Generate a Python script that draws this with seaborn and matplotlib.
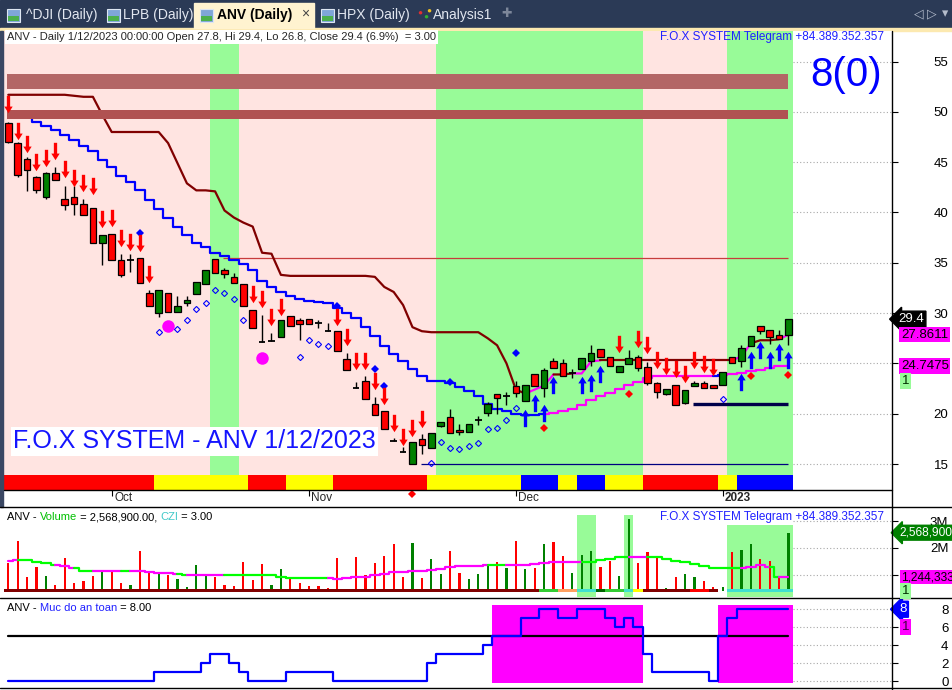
import numpy as np
import matplotlib
matplotlib.use("Agg")
import matplotlib.pyplot as plt
from matplotlib.path import Path
from matplotlib.patches import Rectangle
from matplotlib.lines import Line2D
from matplotlib.transforms import blended_transform_factory
import seaborn as sns

## daily bars of ANV, 16 Sep 2022 .. 12 Jan 2023 (84 bars)
opens = [48.9, 46.9, 45.3, 43.5, 41.5, 43.9, 41.3, 41.5, 40.8, 40.4,
         37.0, 37.9, 35.3, 35.3, 35.5, 32.0, 30.0, 32.0, 30.1, 31.0,
         31.9, 32.9, 35.4, 34.3, 33.6, 32.9, 30.3, 27.1, 27.25, 27.6,
         29.7, 29.3, 29.4, 29.0, 28.2, 28.2, 25.4, 22.6, 23.3, 21.0,
         20.3, 17.3, 16.2, 15.0, 17.5, 16.6, 18.8, 19.7, 18.4, 18.2,
         19.4, 20.1, 22.0, 21.8, 22.8, 21.3, 23.9, 22.6, 25.2, 25.0,
         24.0, 24.4, 25.2, 26.4, 25.6, 24.1, 24.9, 25.6, 24.6, 23.1,
         22.0, 22.9, 21.1, 22.8, 23.1, 22.9, 22.9, 25.6, 25.2, 26.7,
         28.7, 28.3, 27.8, 27.8]
highs = [49.0, 47.0, 45.5, 43.6, 44.0, 44.5, 42.6, 42.6, 41.3, 40.4,
         37.8, 37.9, 35.9, 35.9, 35.5, 32.3, 32.3, 32.0, 31.7, 31.7,
         33.1, 34.3, 35.4, 34.5, 34.0, 32.9, 30.3, 29.8, 28.0, 29.3,
         29.7, 29.5, 29.4, 29.3, 29.0, 28.2, 26.0, 23.2, 23.7, 21.7,
         20.3, 17.6, 16.7, 17.2, 18.0, 18.1, 19.2, 20.5, 19.0, 19.0,
         19.8, 21.2, 22.0, 22.2, 23.3, 22.9, 23.9, 24.5, 25.5, 25.4,
         24.4, 25.5, 26.8, 26.4, 25.6, 24.7, 26.3, 25.8, 25.1, 23.2,
         22.5, 22.9, 22.4, 23.3, 23.3, 22.9, 24.1, 25.6, 26.8, 27.7,
         28.7, 28.3, 28.3, 29.4]
lows = [46.9, 43.5, 42.1, 41.9, 41.3, 43.2, 40.2, 39.8, 39.8, 37.0,
        34.8, 35.3, 33.6, 34.1, 33.0, 30.7, 29.6, 30.1, 30.1, 30.7,
        31.9, 32.9, 34.0, 33.5, 33.0, 30.7, 28.5, 27.1, 27.25, 27.6,
        28.7, 27.3, 28.9, 28.5, 28.2, 26.2, 24.3, 22.6, 21.5, 19.9,
        18.5, 17.3, 16.2, 15.0, 16.0, 16.6, 18.7, 18.1, 17.9, 18.2,
        18.9, 19.8, 20.0, 20.9, 21.7, 21.3, 22.8, 21.7, 24.5, 23.7,
        23.5, 24.4, 24.7, 25.6, 24.7, 24.1, 24.9, 24.2, 22.9, 21.6,
        21.9, 20.9, 21.0, 22.8, 22.6, 22.6, 22.9, 25.0, 24.6, 26.7,
        27.9, 26.9, 27.4, 26.8]
closes = [47.0, 43.7, 44.2, 42.2, 43.9, 43.2, 40.7, 40.8, 39.8, 37.0,
          37.8, 35.3, 33.8, 35.3, 33.0, 30.7, 32.3, 30.1, 30.7, 31.3,
          33.1, 34.3, 34.0, 33.9, 33.0, 30.7, 28.5, 27.1, 27.25, 29.3,
          28.7, 28.9, 28.9, 29.0, 28.2, 26.2, 24.3, 22.6, 21.5, 19.9,
          18.5, 17.3, 16.2, 17.2, 16.9, 18.1, 19.2, 18.1, 18.2, 19.0,
          19.4, 21.0, 21.6, 21.8, 22.1, 22.9, 22.8, 24.3, 24.5, 23.7,
          24.0, 25.5, 26.0, 25.6, 24.7, 24.7, 25.5, 24.5, 23.1, 22.2,
          22.5, 20.9, 22.4, 23.1, 22.6, 22.6, 24.1, 25.0, 26.5, 27.7,
          28.2, 27.6, 27.4, 29.4]

## month ticks on the date axis
month_bars = [11, 32, 54, 76]
month_labels = ["Oct", "Nov", "Dec", "2023"]

## trailing stop above price (maroon, magenta where it turns)
stop_upper = [51.7, 51.7, 51.7, 51.7, 51.7, 51.7, 51.7, 51.6, 51.5, 51.5,
              49.7, 48.0, 48.0, 48.0, 48.0, 48.0, 48.0, 46.9, 44.9, 42.9,
              42.2, 42.2, 42.1, 40.2, 39.5, 39.0, 38.6, 36.0, 35.9, 33.8,
              33.7, 33.7, 33.7, 33.7, 33.7, 33.7, 33.7, 33.7, 33.7, 33.6,
              32.6, 32.1, 30.8, 28.6, 28.2, 28.1, 28.1, 28.1, 28.1, 28.1,
              28.1, 27.5, 26.8, 25.0, 22.4, 22.0, 22.4, 22.8, 23.9, 23.9,
              24.0, 24.0, 25.2, 25.3, 25.3, 25.3, 25.3, 25.3, 25.3, 25.3,
              25.3, 25.3, 25.3, 25.3, 25.3, 25.3, 25.3, 25.3, 25.7, 27.0,
              27.3, 27.3, 27.4, 27.8611]
stop_upper_turn = [55, 56, 57, 60, 61, 62, 77, 78, 82]

## stepped line below/above price (blue = resistance, magenta = support)
stop_lower = [50.0, 50.0, 49.5, 49.0, 48.6, 48.2, 47.7, 47.2, 46.6, 46.1,
              45.2, 44.5, 43.6, 43.0, 42.2, 41.2, 40.3, 39.5, 38.6, 37.8,
              37.0, 36.6, 36.0, 35.7, 35.3, 34.9, 34.3, 33.2, 32.6, 32.1,
              31.7, 31.4, 31.2, 31.1, 31.0, 30.5, 30.0, 29.5, 28.6, 27.7,
              26.7, 25.9, 25.2, 24.4, 23.7, 23.3, 23.3, 23.1, 22.7, 22.3,
              21.8, 21.0, 20.5, 20.3, 20.0, 19.9, 19.9, 20.0, 20.1, 20.3,
              20.5, 20.9, 21.4, 21.8, 22.1, 22.5, 22.9, 23.2, 23.5, 23.7,
              23.7, 23.75, 23.75, 23.75, 23.75, 23.75, 23.8, 23.9, 24.0, 24.2,
              24.3, 24.5, 24.7, 24.7475]
lower_run_first = [0, 57, 75, 76]
lower_run_last = [56, 74, 75, 83]
lower_run_kind = ["resist", "support", "resist", "support"]

## horizontal levels: value, first bar, last bar, kind
level_values = [35.45, 15.0, 21.0]
level_first = [22.8, 43.9, 72.8]
level_last = [83, 83, 83]
level_kind = ["thin_red", "thin_navy", "thick_navy"]

## resistance zones at the top (price low, price high)
zone_lo = [52.28, 49.29]
zone_hi = [53.77, 50.19]

## background regimes
regime_first = [0, 22, 25, 46, 68, 77]
regime_last = [21, 24, 45, 67, 76, 83]
regime_kind = ["bear", "bull", "bear", "bull", "bear", "bull"]

## trend ribbon under the price
ribbon_first = [0, 16, 26, 30, 35, 45, 55, 59, 61, 64, 68, 76, 78]
ribbon_last = [15, 25, 29, 34, 44, 54, 58, 60, 63, 67, 75, 77, 83]
ribbon_kind = ["r", "y", "r", "y", "r", "y", "b", "y", "b", "y", "r", "y", "b"]

## signals
sell_bars = [0, 1, 2, 3, 4, 5, 6, 7, 8, 9, 10, 11, 12, 13, 14, 15, 26, 27, 28, 29,
             35, 36, 37, 38, 39, 40, 41, 42, 43, 44, 65, 67, 68, 69, 70, 71, 72, 73, 74, 75]
sell_at = [50.8, 48.1, 46.8, 45.0, 45.4, 46.1, 44.3, 43.4, 42.9, 42.6,
           39.4, 39.5, 37.5, 37.1, 37.0, 33.9, 31.9, 31.4, 29.6, 30.6,
           29.6, 27.6, 25.2, 25.2, 23.3, 21.8, 19.1, 17.7, 18.6, 19.5,
           26.9, 27.4, 26.8, 25.3, 24.7, 24.4, 23.9, 25.3, 24.9, 24.6]
buy_bars = [55, 56, 57, 58, 61, 62, 63, 78, 79, 80, 81, 82, 83]
buy_at = [19.6, 21.1, 20.1, 22.9, 22.9, 23.1, 23.9, 23.2, 25.3, 26.3, 25.3, 26.1, 25.3]
blue_dot_bars = [14, 35, 39, 40, 47, 54]
blue_dot_at = [38.0, 30.7, 24.4, 22.8, 23.2, 26.0]
red_dot_bars = [43, 57, 66, 79, 83]
red_dot_at = [12.0, 18.6, 22.0, 23.75, 23.85]
ring_bars = [16, 17, 18, 19, 20, 21, 22, 23, 24, 25, 31, 32, 33, 34,
             45, 46, 47, 48, 49, 50, 51, 52, 53, 54, 76]
ring_at = [28.1, 28.7, 28.4, 29.3, 30.4, 31.0, 32.3, 32.0, 31.4, 29.3, 25.6, 27.3, 26.9, 26.7,
           15.1, 17.2, 16.6, 16.5, 16.8, 17.1, 18.5, 18.6, 19.4, 20.6, 21.5]
big_dot_bars = [17, 27]
big_dot_at = [28.7, 25.5]

## volume (millions) and its average
volume = [1.45, 2.26, 0.90, 1.27, 0.95, 0.61, 1.61, 0.70, 0.76, 0.95,
          1.15, 1.15, 0.67, 0.61, 1.88, 1.15, 1.07, 0.98, 0.82, 0.52,
          1.36, 0.95, 0.90, 0.61, 0.57, 1.47, 0.80, 1.40, 0.61, 1.21,
          0.90, 0.70, 0.57, 0.57, 0.51, 1.61, 0.45, 1.65, 0.98, 1.45,
          1.70, 2.15, 0.90, 2.20, 0.86, 1.57, 1.02, 1.88, 1.07, 0.83,
          1.02, 1.40, 1.48, 1.24, 2.26, 1.21, 1.24, 2.15, 2.21, 1.70,
          1.07, 1.73, 1.88, 1.27, 1.51, 0.95, 3.08, 1.45, 1.83, 1.65,
          0.49, 0.90, 1.02, 0.90, 0.76, 0.52, 0.52, 1.83, 1.92, 2.15,
          1.57, 1.51, 0.90, 2.5689]
volume_up_bars = [4, 10, 13, 16, 18, 19, 20, 21, 28, 29, 43, 45, 46, 49, 50, 51, 53, 55,
                  57, 60, 61, 62, 65, 66, 70, 72, 73, 76, 78, 79, 83]
volume_ma = [1.52, 1.55, 1.53, 1.48, 1.45, 1.36, 1.32, 1.24, 1.15, 1.15,
             1.15, 1.15, 1.15, 1.15, 1.15, 1.11, 1.07, 1.05, 1.02, 0.99,
             0.99, 0.99, 0.99, 0.99, 0.99, 0.99, 0.99, 0.99, 0.99, 0.92,
             0.88, 0.88, 0.88, 0.88, 0.88, 0.84, 0.86, 0.90, 0.92, 0.99,
             1.02, 1.09, 1.11, 1.15, 1.15, 1.17, 1.21, 1.27, 1.32, 1.33,
             1.32, 1.36, 1.36, 1.36, 1.36, 1.36, 1.40, 1.42, 1.46, 1.46,
             1.48, 1.48, 1.48, 1.55, 1.57, 1.65, 1.67, 1.67, 1.65, 1.65,
             1.58, 1.52, 1.46, 1.40, 1.32, 1.26, 1.26, 1.26, 1.26, 1.30,
             1.36, 1.30, 0.90, 0.90]
volume_ma_hot = [0, 5, 6, 9, 10, 11, 13, 14, 15, 16, 17, 19, 20, 21, 22,
                 34, 35, 36, 37, 38, 39, 40, 41, 42, 43, 44, 45, 46, 47, 48, 49, 50,
                 53, 54, 55, 56, 57, 58, 59, 60, 66, 67, 78, 79, 80, 82, 83]
vol_box_first = [61, 66, 77]
vol_box_last = [62, 66, 83]
vol_box_top = [3.23, 3.23, 2.86]
vol_ribbon_first = [0, 57, 59, 61, 63, 64, 66, 67, 68, 73, 75, 77]
vol_ribbon_last = [56, 58, 60, 62, 63, 65, 66, 67, 72, 74, 75, 83]
vol_ribbon_kind = ["m", "g", "o", "c", "dg", "g", "c", "y", "m", "r", "m", "c"]

## "Muc do an toan" (safety level) per bar
safety = [0, 0, 0, 0, 0, 0, 0, 0, 0, 0, 0, 0, 0, 0, 0, 0, 1, 1, 1, 1,
          1, 2, 3, 3, 2, 1, 0, 0, 0, 0, 1, 1, 1, 1, 1, 0, 0, 0, 0, 0,
          0, 0, 0, 0, 0, 2, 3, 3, 3, 3, 3, 4, 5, 5, 5, 7, 7, 8, 8, 7,
          7, 8, 8, 8, 7, 6, 7, 6, 3, 1, 1, 1, 1, 1, 1, 0, 5, 7, 8, 8,
          8, 8, 8, 8]
safety_line = 5
safe_first = [52, 76]
safe_last = [67, 83]

## ---------------------------------------------------------------
W, H = 952, 690
def fx(px):
    return px / W
def fy(py):
    return 1 - py / H

sns.set_style("white")
plt.rcParams['font.family'] = ['Liberation Sans', 'DejaVu Sans']

MAROON = '#800000'
MAGENTA = '#FF00FF'
BLUE = '#0000FF'
PINK = '#FFE4E1'
LGREEN = '#98FB98'

n = len(closes)
x = np.arange(n)
o = np.array(opens); hi = np.array(highs); lo = np.array(lows); c = np.array(closes)

fig = plt.figure(figsize=(W / 100, H / 100), dpi=100)
left, right = 4, 891.5
aw = (right - left) / W
ax1 = fig.add_axes([fx(left), fy(490), aw, (490 - 31) / H])
ax2 = fig.add_axes([fx(left), fy(597.5), aw, (597.5 - 507) / H])
ax3 = fig.add_axes([fx(left), fy(688), aw, (688 - 598) / H])
xlim = (-0.457, 93.96)
for ax in (ax1, ax2, ax3):
    ax.set_xlim(*xlim)
    for s in ax.spines.values():
        s.set_visible(False)
    ax.yaxis.tick_right()
    ax.tick_params(axis='y', right=True, left=False, length=4, width=0.8,
                   colors='black', labelsize=9.5, pad=37)
    ax.set_facecolor('white')
ax1.set_ylim(12.416, 58.04)
ax2.set_ylim(0.142, 3.532)
ax3.set_ylim(-0.78, 9.253)


def colored_line(ax, xs, ys, cols, lw, steps):
    start = 0
    for k in range(1, len(xs) + 1):
        if k == len(xs) or cols[k] != cols[start]:
            stop = min(k + 1, len(xs))
            sns.lineplot(x=xs[start:stop], y=ys[start:stop], ax=ax, color=cols[start],
                         linewidth=lw, drawstyle='steps-mid' if steps else 'default',
                         estimator=None, sort=False, zorder=3)
            start = k


## ---------------- main price panel ----------------
regime_col = {"bear": PINK, "bull": LGREEN}
for a, b, k in zip(regime_first, regime_last, regime_kind):
    ax1.axvspan(a - 0.5, b + 0.5, color=regime_col[k], lw=0, zorder=0.2)

price_ticks = [15, 20, 25, 30, 35, 40, 45, 50, 55]
ax1.set_yticks(price_ticks)
ax1.hlines(price_ticks, n - 0.5, xlim[1], colors='#A8A8A8', linestyles=(0, (1, 2)), lw=0.8, zorder=0.3)

rib_col = {"r": '#FF0000', "y": '#FFFF00', "b": BLUE}
for a, b, k in zip(ribbon_first, ribbon_last, ribbon_kind):
    ax1.bar((a + b) / 2, 13.9 - 12.416, bottom=12.416, width=b - a + 1,
            color=rib_col[k], lw=0, zorder=1)

lvl_style = {"thin_red": ('#C83C3C', 0.9), "thin_navy": ('#000080', 0.9), "thick_navy": ('#00004A', 2.4)}
for v, a, b, k in zip(level_values, level_first, level_last, level_kind):
    col, lw = lvl_style[k]
    ax1.plot([a, b], [v, v], color=col, lw=lw, zorder=2, solid_capstyle='butt')

upper_cols = [MAGENTA if i in stop_upper_turn else MAROON for i in range(n)]
colored_line(ax1, x, np.array(stop_upper), upper_cols, 1.6, False)
lower_cols = [BLUE] * n
for a, b, k in zip(lower_run_first, lower_run_last, lower_run_kind):
    for i in range(a, b + 1):
        lower_cols[i] = BLUE if k == "resist" else MAGENTA
colored_line(ax1, x, np.array(stop_lower), lower_cols, 1.6, True)

for lo_, hi_, col in zip(zone_lo, zone_hi, ['#B36666', '#B05252']):
    ax1.fill_between([-0.1, n - 1], lo_, hi_, color=col, lw=0, zorder=4)

## candles
up = c > o
doji = c == o
ax1.vlines(x, lo, hi, color='black', lw=1.0, zorder=5)
body_col = np.where(up, '#008000', '#FF0000')
ax1.bar(x[~doji], np.abs(c - o)[~doji], bottom=np.minimum(o, c)[~doji], width=0.7,
        color=body_col[~doji], edgecolor='black', linewidth=0.9, zorder=6)
ax1.hlines(o[doji], x[doji] - 0.35, x[doji] + 0.35, color='black', lw=1.3, zorder=6)

## arrows and dots
down_arrow = Path([(-0.19, 1), (0.19, 1), (0.19, -0.24), (0.48, -0.24), (0, -1),
                   (-0.48, -0.24), (-0.19, -0.24), (-0.19, 1)],
                  [Path.MOVETO] + [Path.LINETO] * 6 + [Path.CLOSEPOLY])
up_arrow = Path([(px_, -py_) for px_, py_ in down_arrow.vertices], down_arrow.codes)
ax1.plot(ring_bars, ring_at, ls='none', marker='D', ms=3.1, mfc='none', mec=BLUE, mew=0.8, zorder=7)
ax1.plot(big_dot_bars, big_dot_at, ls='none', marker='o', ms=9, color=MAGENTA, mew=0, zorder=7)
ax1.plot(blue_dot_bars, blue_dot_at, ls='none', marker='D', ms=4, color=BLUE, mew=0, zorder=7)
ax1.plot(red_dot_bars, red_dot_at, ls='none', marker='D', ms=4, color='#FF0000', mew=0, zorder=7,
         clip_on=False)
ax1.plot(sell_bars, sell_at, ls='none', marker=down_arrow, ms=12.5, color='#FF0000', mew=0, zorder=8)
ax1.plot(buy_bars, buy_at, ls='none', marker=up_arrow, ms=12.5, color=BLUE, mew=0, zorder=8)

## date axis
ax1.set_xticks(month_bars)
ax1.tick_params(axis='x', bottom=True, length=4, width=0.8, colors='black', direction='out',
                labelbottom=False)
tr = blended_transform_factory(ax1.transData, ax1.transAxes)
for mb, ml in zip(month_bars, month_labels):
    ax1.text(mb + 0.25, -0.0185, ml, transform=tr, ha='left', va='center', fontsize=8.5,
             fontweight='bold' if ml == "2023" else 'normal')

## right-hand value boxes
trR = blended_transform_factory(ax1.transAxes, ax1.transData)
ax1.text(1.0075, closes[-1], "%.1f" % closes[-1], transform=trR, color='white', fontsize=9.5,
         va='center', zorder=20, bbox=dict(boxstyle='larrow,pad=0.15', fc='black', ec='black'))
ax1.text(1.0107, stop_upper[-1], "%.4f" % stop_upper[-1], transform=trR, color='black', fontsize=9.5,
         va='center', zorder=20, bbox=dict(boxstyle='square,pad=0.12', fc=MAGENTA, ec='none'))
ax1.text(1.0107, stop_lower[-1], "%.4f" % stop_lower[-1], transform=trR, color='black', fontsize=9.5,
         va='center', zorder=20, bbox=dict(boxstyle='square,pad=0.12', fc=MAGENTA, ec='none'))

## ---------------- volume panel ----------------
for a, b, t in zip(vol_box_first, vol_box_last, vol_box_top):
    ax2.fill_between([a - 0.5, b + 0.5], 0.142, t, color=LGREEN, lw=0, zorder=0.5)
vbase = 0.40
vcols = ['#008000' if i in volume_up_bars else '#FF0000' for i in range(n)]
ax2.bar(x, np.array(volume) - vbase, bottom=vbase, width=0.24, color=vcols, lw=0, zorder=3)
vr_col = {"m": MAROON, "g": '#33CC33', "o": '#FFA060', "c": '#40E0D0', "dg": '#006400',
          "y": '#FFFF00', "r": '#FF0000'}
for a, b, k in zip(vol_ribbon_first, vol_ribbon_last, vol_ribbon_kind):
    ax2.bar((a + b) / 2, 0.112, bottom=0.337, width=b - a + 1, color=vr_col[k], lw=0, zorder=4)
ma_cols = [MAGENTA if i in volume_ma_hot else '#00FF00' for i in range(n)]
colored_line(ax2, x, np.array(volume_ma), ma_cols, 1.6, True)
ax2.set_yticks([1, 2, 3], labels=["1M", "2M", "3M"])
ax2.hlines([1, 2, 3], n - 0.5, xlim[1], colors='#A8A8A8', linestyles=(0, (1, 2)), lw=0.8, zorder=0.3)
ax2.set_xticks([])
trV = blended_transform_factory(ax2.transAxes, ax2.transData)
ax2.text(1.0085, volume[-1], "2,568,900", transform=trV, color='white', fontsize=8.6, va='center',
         zorder=20, bbox=dict(boxstyle='larrow,pad=0.12', fc='#008000', ec='#008000'))
ax2.text(1.0107, volume_ma[-1], "1,244,333", transform=trV, color='black', fontsize=8.6, va='center',
         zorder=20, bbox=dict(boxstyle='square,pad=0.1', fc=MAGENTA, ec='none'))

## ---------------- safety panel ----------------
for a, b in zip(safe_first, safe_last):
    ax3.fill_between([a - 0.5, b + 0.5], -0.22, 8.47, color=MAGENTA, lw=0, zorder=0.5)
ax3.plot([0, n - 1], [safety_line, safety_line], color='black', lw=1.6, zorder=2)
sns.lineplot(x=x, y=np.array(safety), ax=ax3, color=BLUE, linewidth=1.6, drawstyle='steps-mid',
             estimator=None, sort=False, zorder=3)
ax3.set_yticks([0, 2, 4, 6, 8])
ax3.hlines([0, 2, 4, 6, 8], n - 0.5, xlim[1], colors='#A8A8A8', linestyles=(0, (1, 2)), lw=0.8, zorder=0.3)
ax3.set_xticks([])
trS = blended_transform_factory(ax3.transAxes, ax3.transData)
ax3.text(1.0085, safety[-1], "%d" % safety[-1], transform=trS, color='white', fontsize=9.5, va='center',
         zorder=20, bbox=dict(boxstyle='larrow,pad=0.15', fc=BLUE, ec=BLUE))

for ax in (ax1, ax2, ax3):
    ax.set_xlabel("")
    ax.set_ylabel("")
    for lab in ax.get_yticklabels():
        lab.set_horizontalalignment('right')

## ---------------- window chrome and titles ----------------
fig.add_artist(Rectangle((0, fy(28)), 1, 28 / H, transform=fig.transFigure, color='#2B3A56', zorder=0))
fig.add_artist(Rectangle((0, fy(31)), 1, 3 / H, transform=fig.transFigure, color='#FCE9B0', zorder=0))
fig.add_artist(Rectangle((fx(194), fy(28)), 120 / W, 25 / H, transform=fig.transFigure,
                         color='#FFF3D0', zorder=0))
fig.add_artist(Rectangle((0, fy(507)), 3 / W, (507 - 31) / H, transform=fig.transFigure,
                         color='#3A4763', zorder=5))
for ix in [7, 107, 200, 321]:
    fig.add_artist(Rectangle((fx(ix), fy(22)), 13 / W, 13 / H, transform=fig.transFigure,
                             fc='#7FA6D8', ec='#DDE6F2', lw=0.8, zorder=1))
    fig.add_artist(Rectangle((fx(ix + 1), fy(21)), 11 / W, 5 / H, transform=fig.transFigure,
                             fc='#4CB04C', lw=0, zorder=1))
tabs = [(26, "^DJI (Daily)"), (123, "LPB (Daily)"), (337, "HPX (Daily)"), (433, "Analysis1")]
for tx, tl in tabs:
    fig.text(fx(tx), fy(15), tl, color='#E2E7F0', fontsize=10, va='center', ha='left')
fig.text(fx(217), fy(15), "ANV (Daily)", color='black', fontsize=10, fontweight='bold', va='center')
fig.text(fx(305), fy(14), "×", color='#444444', fontsize=10, va='center', ha='center')
fig.text(fx(417), fy(13), "●", color='#E03030', fontsize=6, va='center')
fig.text(fx(423), fy(17), "●", color='#30B030', fontsize=6, va='center')
fig.text(fx(426), fy(11), "●", color='#F0C020', fontsize=6, va='center')
fig.text(fx(507), fy(14), "✚", color='#7D879A', fontsize=9, va='center', ha='center')
for tx, tl in [(919, "◁"), (932, "▷"), (945, "▾")]:
    fig.text(fx(tx), fy(14), tl, color='#B4BCCC', fontsize=9, va='center', ha='center')

for yy, x0 in [(490, fx(4)), (507, 0), (598, 0), (688, 0)]:
    fig.add_artist(Line2D([x0, fx(891.5) if yy == 490 else 1], [fy(yy), fy(yy)],
                          transform=fig.transFigure, color='black', lw=1.0, zorder=6))
fig.add_artist(Line2D([fx(891.5), fx(891.5)], [fy(31), fy(690)], transform=fig.transFigure,
                      color='black', lw=1.0, zorder=6))

fig.text(fx(7), fy(37), "ANV - Daily 1/12/2023 00:00:00 Open 27.8, Hi 29.4, Lo 26.8, Close 29.4 (6.9%)  = 3.00",
         fontsize=8, va='center', ha='left', zorder=10,
         bbox=dict(boxstyle='square,pad=0.15', fc='white', ec='none'))
fig.text(fx(884), fy(37), "F.O.X SYSTEM Telegram +84.389.352.357", color='#2020FF', fontsize=8.5,
         va='center', ha='right', zorder=10)
fig.text(fx(884), fy(517), "F.O.X SYSTEM Telegram +84.389.352.357", color='#2020FF', fontsize=8.5,
         va='center', ha='right', zorder=10)
fig.text(fx(846), fy(75), "8(0)", color=BLUE, fontsize=29, va='center', ha='center', zorder=10)
fig.text(fx(13), fy(441), "F.O.X SYSTEM - ANV 1/12/2023", color='#1515FF', fontsize=18,
         va='center', ha='left', zorder=10, bbox=dict(boxstyle='square,pad=0.1', fc='white', ec='none'))

## little state boxes on the right
fig.text(fx(902), fy(381), "1", color='#003000', fontsize=9.5, va='center', zorder=10,
         bbox=dict(boxstyle='square,pad=0.15', fc=LGREEN, ec='none'))
fig.text(fx(902), fy(591), "1", color='#003000', fontsize=9.5, va='center', zorder=10,
         bbox=dict(boxstyle='square,pad=0.15', fc=LGREEN, ec='none'))
fig.text(fx(902), fy(627), "1", color='#400040', fontsize=9.5, va='center', zorder=10,
         bbox=dict(boxstyle='square,pad=0.15', fc=MAGENTA, ec='none'))


## panel titles with coloured parts
def rich_text(px, py, parts, size):
    renderer = fig.canvas.get_renderer()
    for s, col in parts:
        t = fig.text(fx(px), fy(py), s, color=col, fontsize=size, ha='left', va='center', zorder=10)
        px += t.get_window_extent(renderer=renderer).width


rich_text(7, 517, [("ANV - ", "black"), ("Volume", "#00C000"), (" = 2,568,900.00, ", "black"),
                   ("CZI", "#40C8C8"), (" = 3.00", "black")], 8)
rich_text(7, 608, [("ANV - ", "black"), ("Muc do an toan", "#2020FF"), (" = 8.00", "black")], 8)

fig.savefig("out.png", dpi=100)
